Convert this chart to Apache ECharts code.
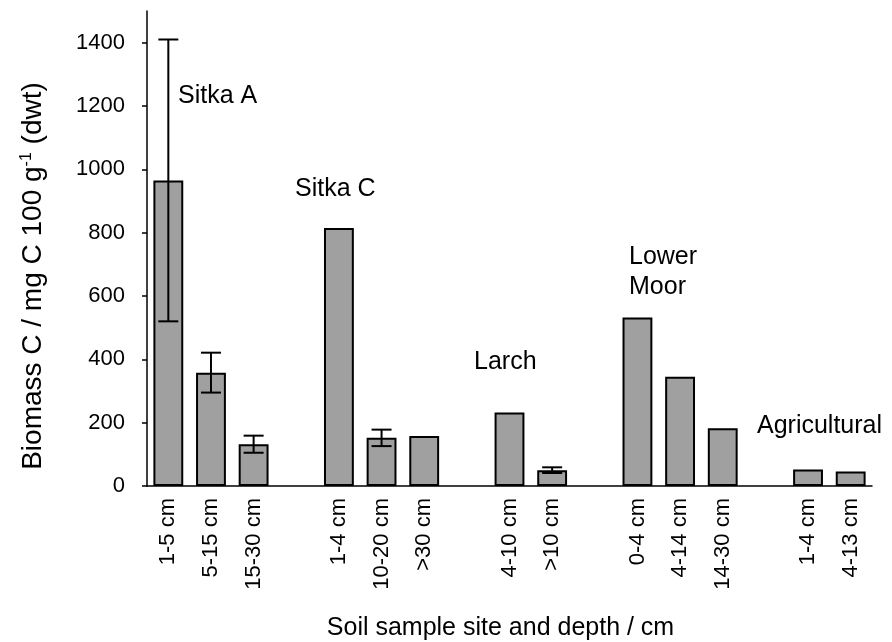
<!DOCTYPE html>
<html>
<head>
<meta charset="utf-8">
<script src="https://cdn.jsdelivr.net/npm/echarts@6/dist/echarts.min.js"></script>
<style>
  html, body { margin: 0; padding: 0; background: #ffffff; }
  #chart { width: 892px; height: 642px; }
</style>
</head>
<body>
<div id="chart"></div>
<script>
// Sample slots along the x axis; empty strings are spacer slots between sites.
var depthLabels = [
  '1-5 cm', '5-15 cm', '15-30 cm', '',
  '1-4 cm', '10-20 cm', '>30 cm', '',
  '4-10 cm', '>10 cm', '',
  '0-4 cm', '4-14 cm', '14-30 cm', '',
  '1-4 cm', '4-13 cm'
];

// Biomass C (mg C 100 g-1 dwt) per slot; null for spacer slots.
var biomassC = [
  965, 358, 132, null,
  815, 152, 158, null,
  232, 50, null,
  532, 345, 182, null,
  52, 46
];

// Error half-widths per slot; null where no error bar is drawn.
var biomassErr = [
  445, 63, 27, null,
  null, 26, null, null,
  null, 9, null,
  null, null, null, null,
  null, null
];

// Site names written above each group.
var siteNames = ['Sitka A', 'Sitka C', 'Larch', 'Lower\nMoor', 'Agricultural'];

var yTickValues = [0, 200, 400, 600, 800, 1000, 1200, 1400];

var FONT = '"Liberation Sans", Arial, Helvetica, sans-serif';

var errorData = [];
biomassErr.forEach(function (e, i) {
  if (e != null && biomassC[i] != null) {
    errorData.push([i, biomassC[i] - e, biomassC[i] + e]);
  }
});

var chart = echarts.init(document.getElementById('chart'), null, { renderer: 'canvas' });

var sitePos = [
  [178, 96], [295, 189], [474, 362], [629, 272], [757, 426]
];

var graphics = siteNames.map(function (name, k) {
  return {
    type: 'text',
    x: sitePos[k][0],
    y: sitePos[k][1],
    style: {
      text: name,
      font: '25px ' + FONT,
      fill: '#000',
      textAlign: 'left',
      textVerticalAlign: 'middle',
      lineHeight: 30
    },
    z: 10
  };
});

graphics.push({
  type: 'text',
  x: 33,
  y: 276,
  rotation: Math.PI / 2,
  style: {
    text: 'Biomass C / mg C 100 g{sup|-1} (dwt)',
    font: '28px ' + FONT,
    fill: '#000',
    textAlign: 'center',
    textVerticalAlign: 'middle',
    rich: {
      sup: { fontSize: 16, fontFamily: FONT, verticalAlign: 'top', fill: '#000', lineHeight: 29 }
    }
  },
  z: 10
});

var option = {
  backgroundColor: '#ffffff',
  animation: false,
  grid: {
    left: 147, right: 20, top: 11, bottom: 156,
    containLabel: false,
    outerBoundsMode: 'none'
  },
  xAxis: {
    type: 'category',
    data: depthLabels,
    boundaryGap: true,
    name: 'Soil sample site and depth / cm',
    nameLocation: 'middle',
    nameGap: 130,
    nameTextStyle: { fontFamily: FONT, fontSize: 25, color: '#000', padding: [0, 18, 0, 0] },
    axisLine: { show: true, lineStyle: { color: '#000', width: 1.5 } },
    axisTick: { show: false },
    axisLabel: {
      rotate: 90,
      interval: 0,
      margin: 12,
      fontFamily: FONT,
      fontSize: 22,
      color: '#000'
    },
    splitLine: { show: false }
  },
  yAxis: {
    type: 'value',
    min: 0,
    max: 1500,
    axisLine: { show: true, lineStyle: { color: '#000', width: 1.5 } },
    axisTick: {
      show: true,
      length: 5,
      lineStyle: { color: '#000', width: 1.5 },
      customValues: yTickValues
    },
    axisLabel: {
      margin: 22,
      fontFamily: FONT,
      fontSize: 22,
      color: '#000',
      customValues: yTickValues,
      formatter: function (v) { return String(v); }
    },
    splitLine: { show: false }
  },
  graphic: graphics,
  series: [
    {
      type: 'bar',
      data: biomassC,
      barWidth: '70%',
      itemStyle: {
        color: '#a0a0a0',
        borderColor: '#000',
        borderWidth: 2
      },
      z: 2
    },
    {
      type: 'custom',
      data: errorData,
      z: 5,
      renderItem: function (params, api) {
        var x = api.value(0);
        var lo = api.coord([x, api.value(1)]);
        var hi = api.coord([x, api.value(2)]);
        var half = 10;
        var st = { stroke: '#000', lineWidth: 2 };
        return {
          type: 'group',
          children: [
            { type: 'line', shape: { x1: hi[0], y1: hi[1], x2: lo[0], y2: lo[1] }, style: st },
            { type: 'line', shape: { x1: hi[0] - half, y1: hi[1], x2: hi[0] + half, y2: hi[1] }, style: st },
            { type: 'line', shape: { x1: lo[0] - half, y1: lo[1], x2: lo[0] + half, y2: lo[1] }, style: st }
          ]
        };
      }
    }
  ]
};

chart.setOption(option);
</script>
</body>
</html>
